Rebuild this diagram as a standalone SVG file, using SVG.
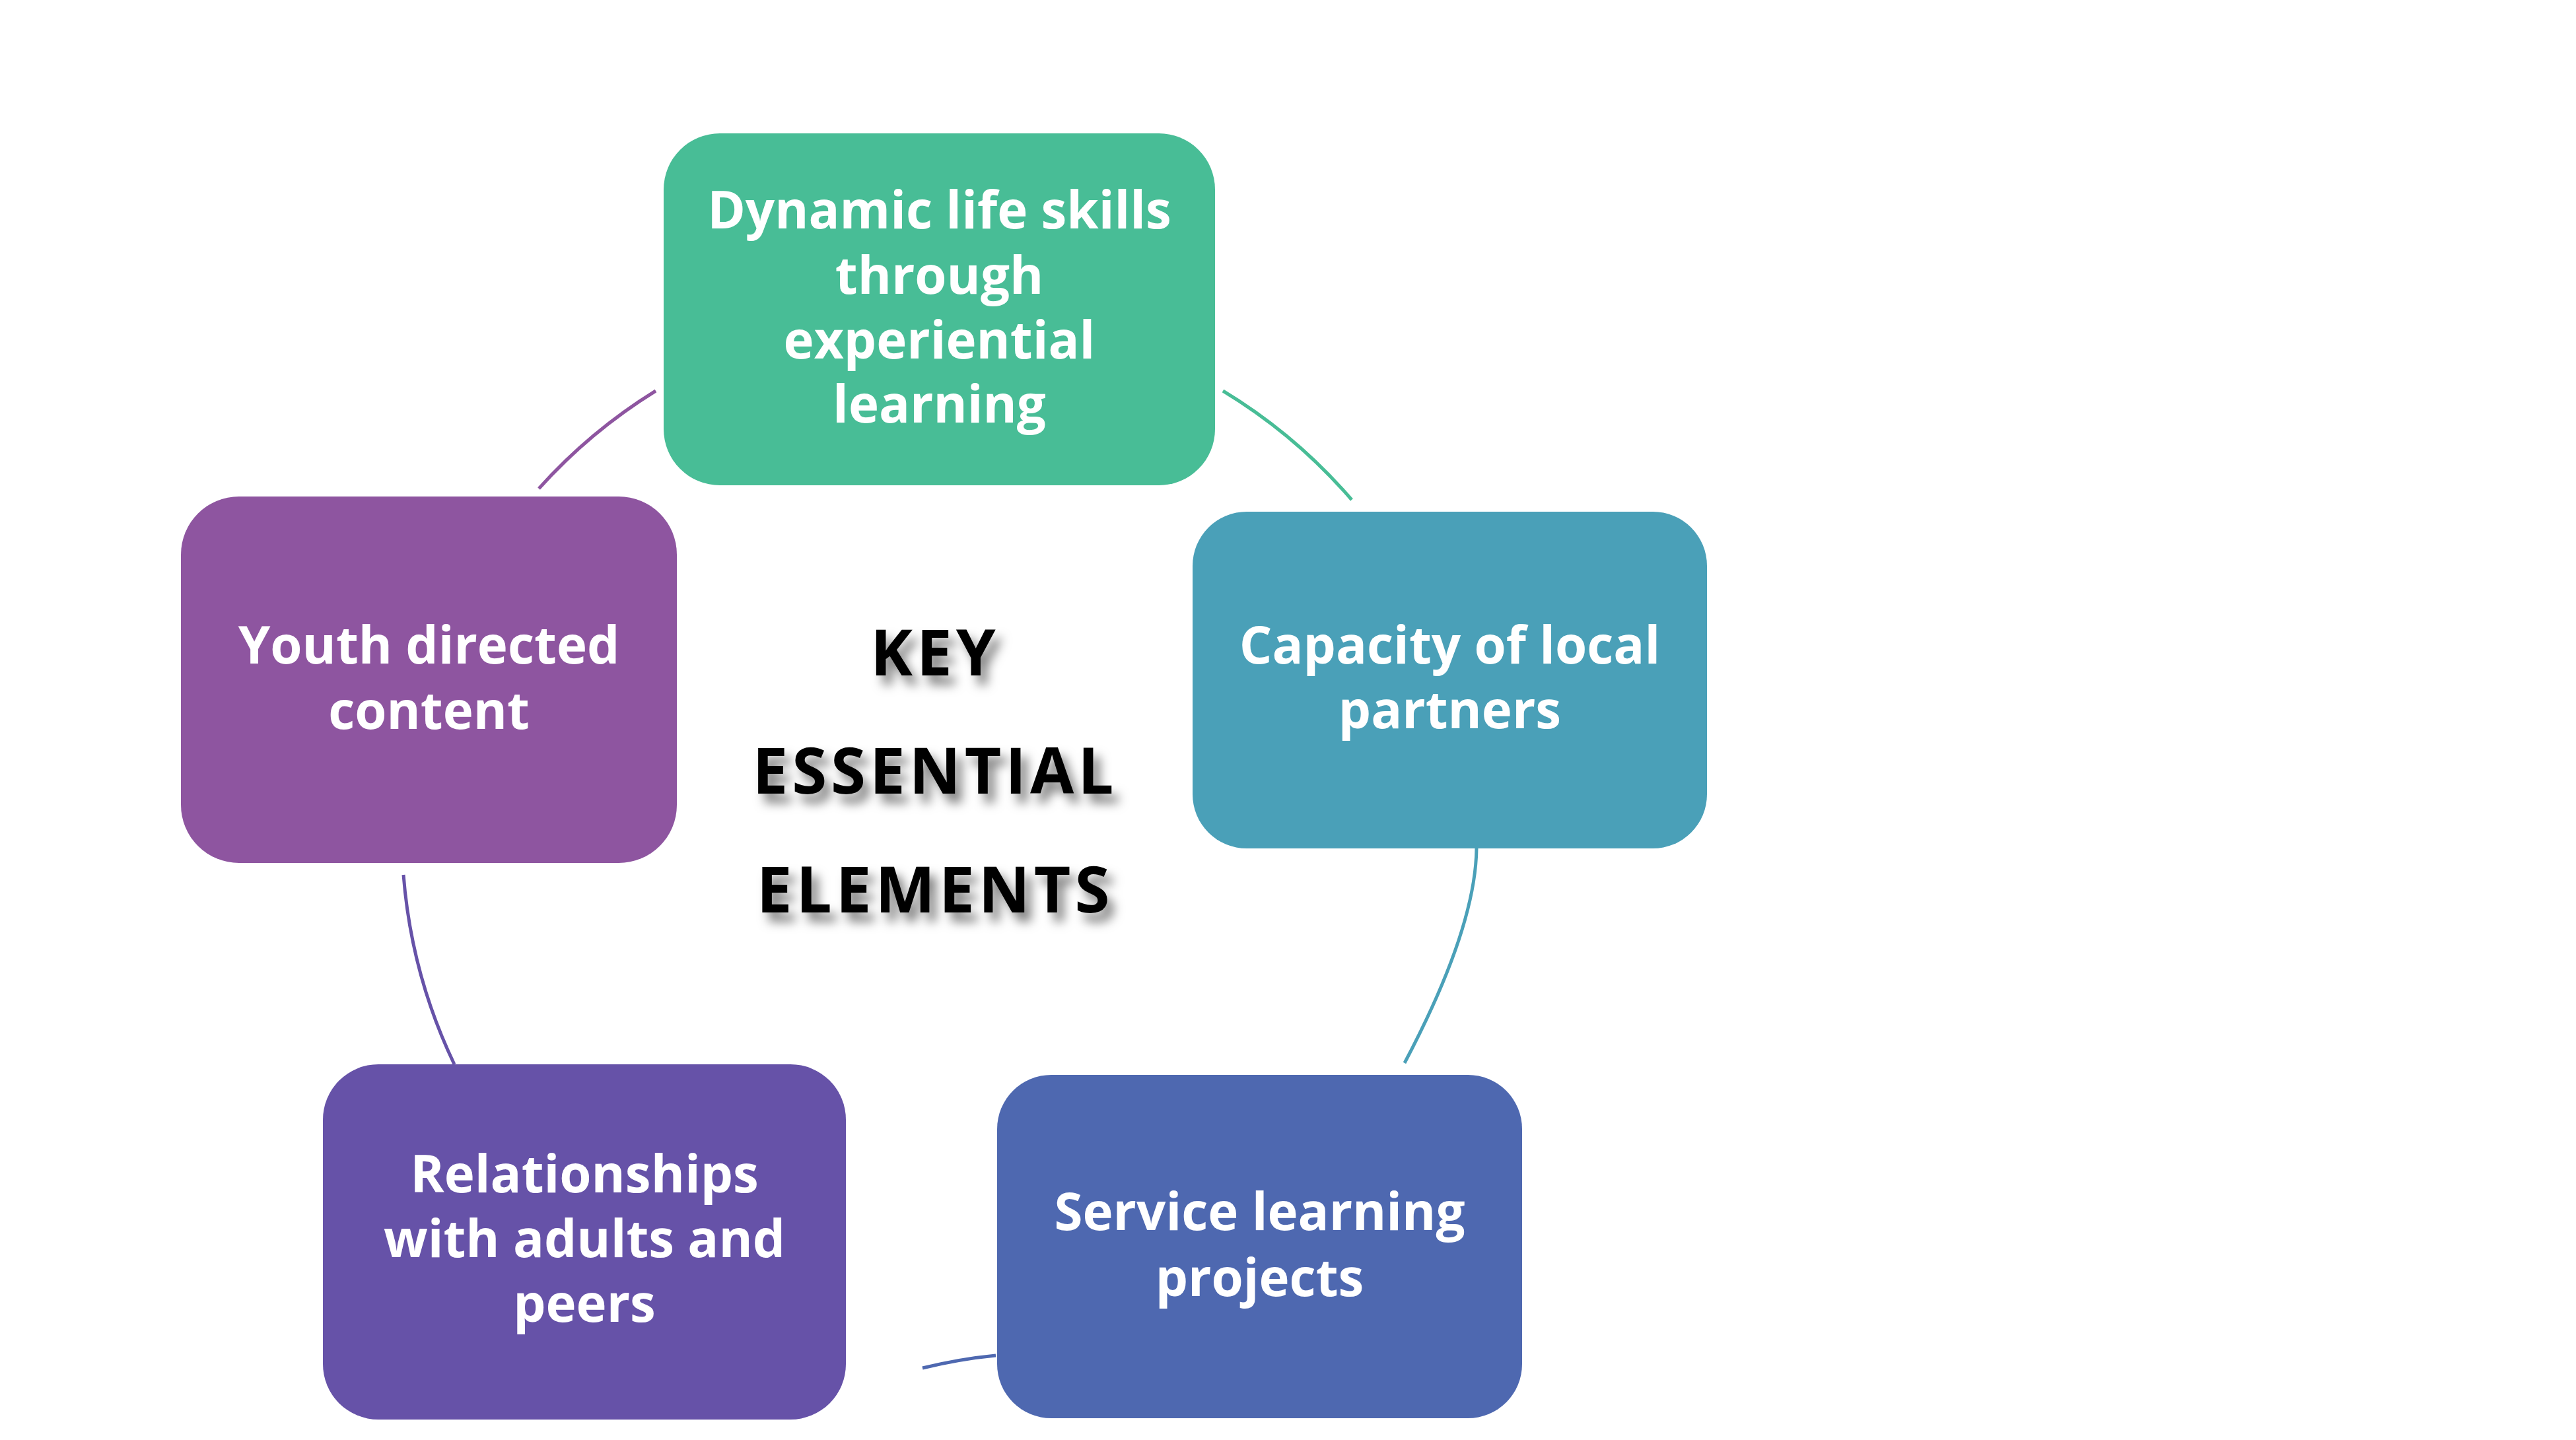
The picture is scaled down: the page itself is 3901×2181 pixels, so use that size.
<svg xmlns="http://www.w3.org/2000/svg" width="3901" height="2181" viewBox="0 0 3901 2181">
  <defs>
    <style>
      .box-text { font-family: "Open Sans", "Lato", "DejaVu Sans", sans-serif; font-weight: 700; font-size: 78px; fill: #FFFFFF; text-anchor: middle; }
      .title { font-family: "Open Sans", "Lato", "DejaVu Sans", sans-serif; font-weight: 700; font-size: 96px; fill: #000000; text-anchor: middle; letter-spacing: 6px; }
      .conn { fill: none; stroke-width: 5; }
    </style>
    <filter id="shadow" x="-20%" y="-40%" width="140%" height="200%">
      <feDropShadow dx="10" dy="14" stdDeviation="8" flood-color="#000000" flood-opacity="0.5"/>
    </filter>
  </defs>
  <rect x="0" y="0" width="3901" height="2181" fill="#FFFFFF"/>

  <g id="connectors">
    <path class="conn" stroke="#48BD96" d="M1852,592 A812,812 0 0 1 2047,757"/>
    <path class="conn" stroke="#4AA0B8" d="M2236,1285 Q2234.5,1406.5 2127,1610"/>
    <path class="conn" stroke="#4E68B0" d="M1508,2053 Q1455,2058 1397,2072"/>
    <path class="conn" stroke="#6652A8" d="M688,1612 A812,812 0 0 1 611,1325"/>
    <path class="conn" stroke="#8E55A0" d="M816,740 A812,812 0 0 1 993,592"/>
  </g>

  <g id="node-dynamic">
    <rect x="1005" y="202" width="835" height="533" rx="85" ry="85" fill="#48BD96"/>
    <text class="box-text" x="1422.5" y="346">Dynamic life skills</text>
    <text class="box-text" x="1422.5" y="444.5">through</text>
    <text class="box-text" x="1422.5" y="542.5">experiential</text>
    <text class="box-text" x="1422.5" y="640">learning</text>
  </g>

  <g id="node-capacity">
    <rect x="1806" y="775" width="779" height="510" rx="82" ry="82" fill="#4AA0B8"/>
    <text class="box-text" x="2195.5" y="1005">Capacity of local</text>
    <text class="box-text" x="2195.5" y="1102.5">partners</text>
  </g>

  <g id="node-service">
    <rect x="1510" y="1628" width="795" height="520" rx="82" ry="82" fill="#4E68B0"/>
    <text class="box-text" x="1907.5" y="1863">Service learning</text>
    <text class="box-text" x="1907.5" y="1962.5">projects</text>
  </g>

  <g id="node-relationships">
    <rect x="489" y="1612" width="792" height="538" rx="84" ry="84" fill="#6652A8"/>
    <text class="box-text" x="885" y="1806">Relationships</text>
    <text class="box-text" x="885" y="1904">with adults and</text>
    <text class="box-text" x="885" y="2002">peers</text>
  </g>

  <g id="node-youth">
    <rect x="274" y="752" width="751" height="555" rx="88" ry="88" fill="#8E55A0"/>
    <text class="box-text" x="649.5" y="1005">Youth directed</text>
    <text class="box-text" x="649.5" y="1103.5">content</text>
  </g>

  <g id="center-title" filter="url(#shadow)">
    <text class="title" x="1416" y="1023">KEY</text>
    <text class="title" x="1416" y="1202">ESSENTIAL</text>
    <text class="title" x="1416" y="1382">ELEMENTS</text>
  </g>
</svg>
